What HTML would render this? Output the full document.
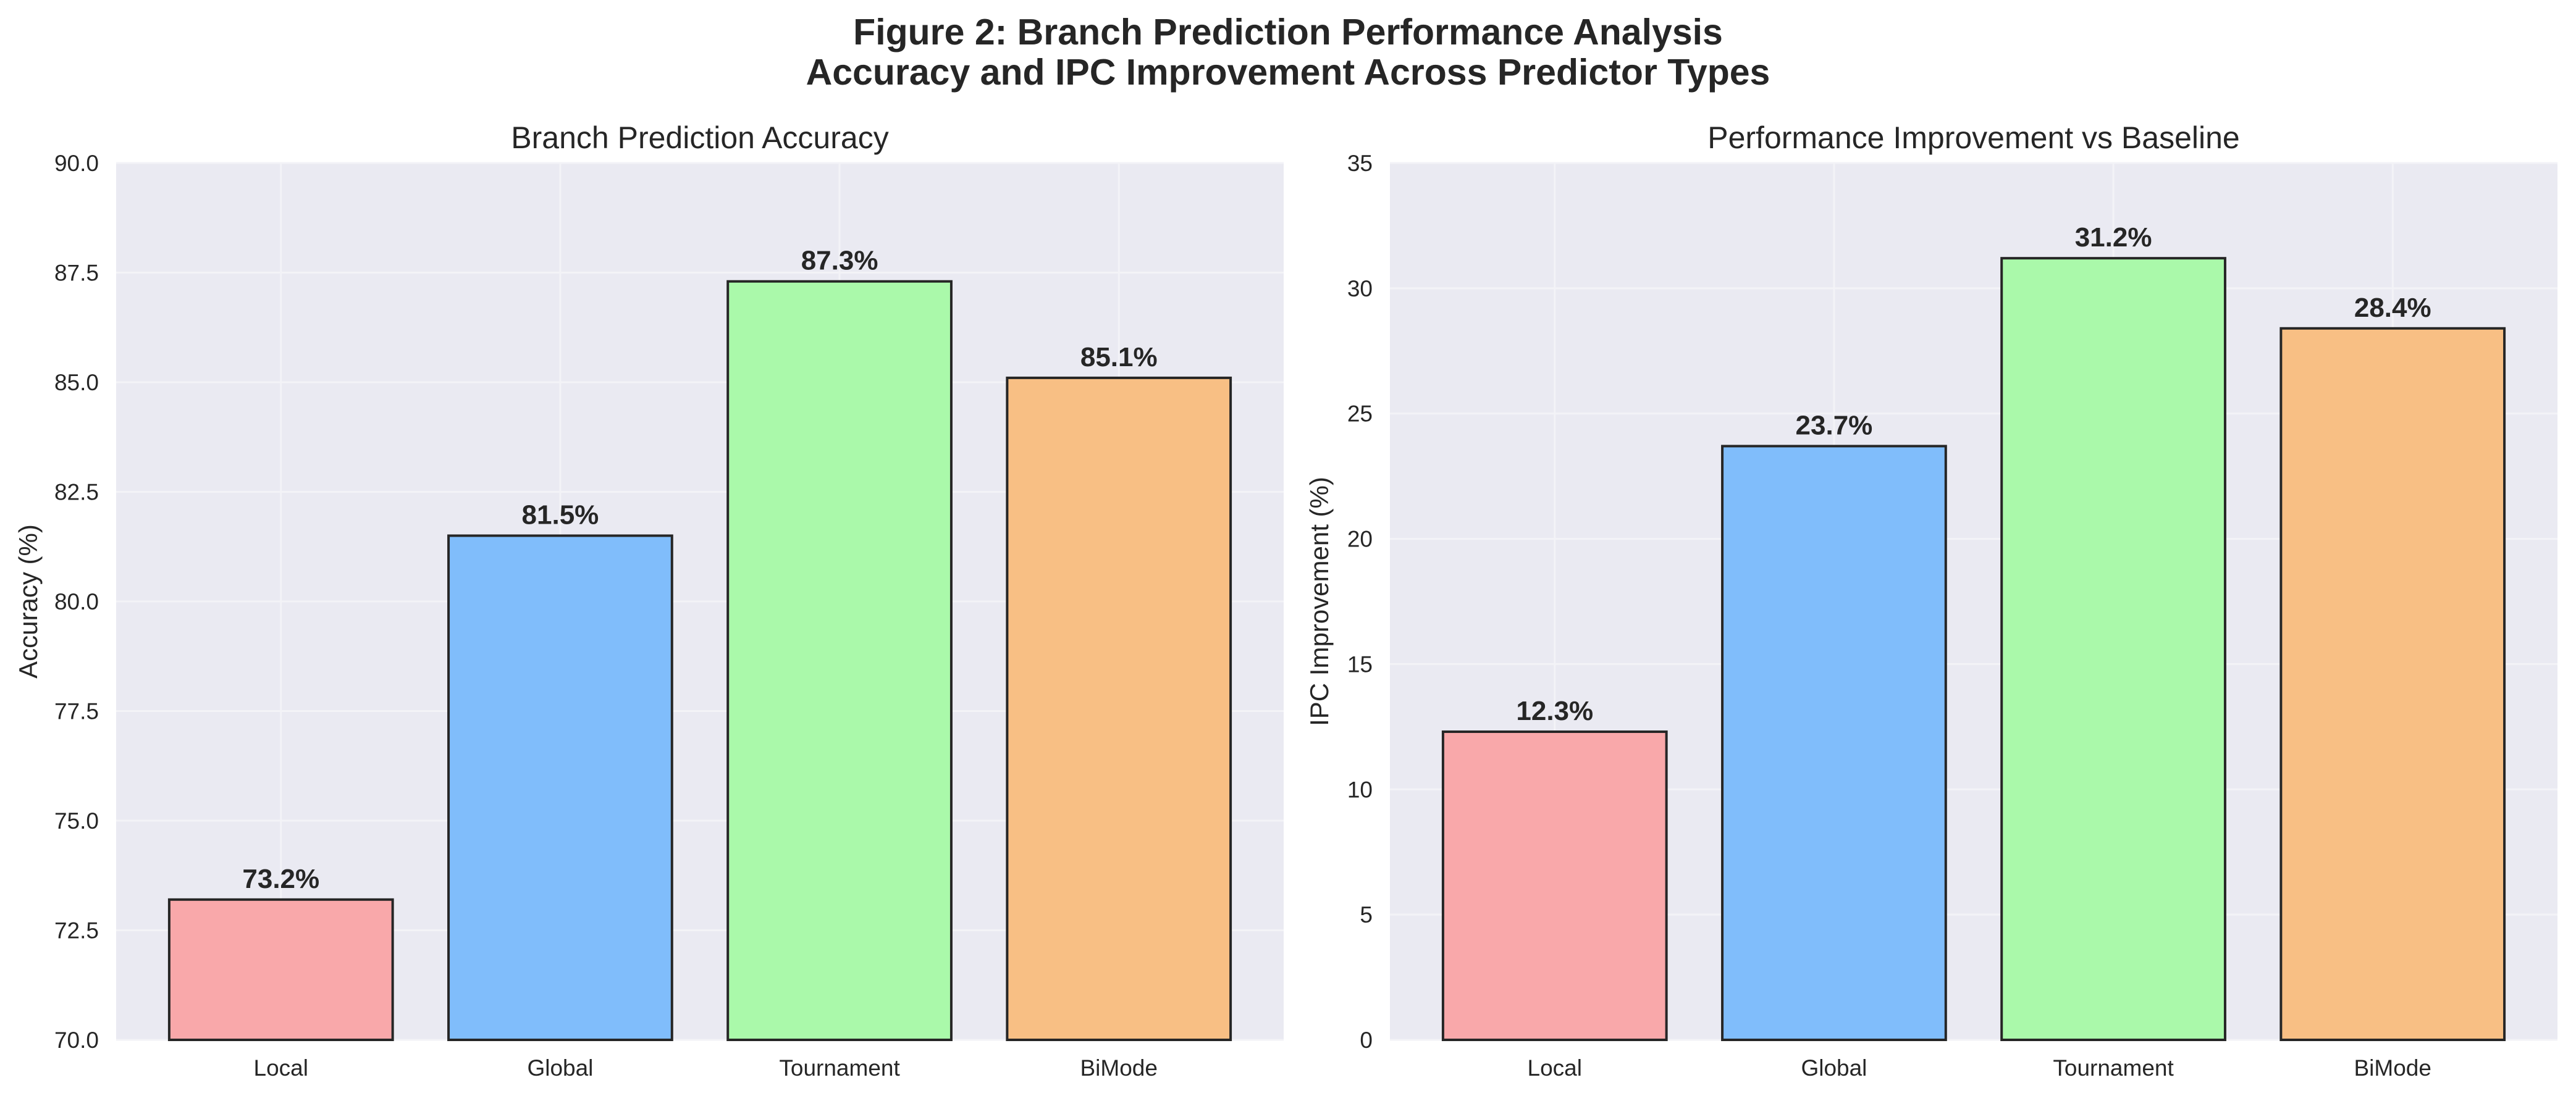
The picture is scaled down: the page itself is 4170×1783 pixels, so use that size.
<!DOCTYPE html>
<html><head><meta charset="utf-8"><style>
body{margin:0;background:#fff;}
svg text{font-family:"Liberation Sans",Arial,sans-serif;fill:#262626;}
</style></head><body>
<svg id="fig" width="4170" height="1778" viewBox="0 0 4170 1778" xmlns="http://www.w3.org/2000/svg">
<text x="2085" y="72" text-anchor="middle" font-size="59" font-weight="bold">Figure 2: Branch Prediction Performance Analysis</text>
<text x="2085" y="137" text-anchor="middle" font-size="59" font-weight="bold">Accuracy and IPC Improvement Across Predictor Types</text>
<g id="p1"></g><g id="p2"></g>
</svg>
<script>
const categories = ["Local","Global","Tournament","BiMode"];
const accuracyValues = [73.2,81.5,87.3,85.1];
const ipcValues = [12.3,23.7,31.2,28.4];
const accuracyTicks = [70,72.5,75,77.5,80,82.5,85,87.5,90];
const accuracyTickLabels = ["70.0","72.5","75.0","77.5","80.0","82.5","85.0","87.5","90.0"];
const ipcTicks = [0,5,10,15,20,25,30,35];
const ipcTickLabels = ["0","5","10","15","20","25","30","35"];
const colors = ["#F9A8AA","#80BDFB","#AAF9AA","#F8BF84"];
const NS="http://www.w3.org/2000/svg";
function mk(tag,attrs,parent){const e=document.createElementNS(NS,tag);for(const k in attrs)e.setAttribute(k,attrs[k]);parent.appendChild(e);return e;}
function panel(g,x0,x1,y0,y1,ymin,ymax,vals,ticks,tickLabels,title,ylabel,prefix,ylOff){
  const xs=i=>x0+(i+0.59)/4.18*(x1-x0);
  const ys=v=>y1-(v-ymin)/(ymax-ymin)*(y1-y0);
  const bg=mk('rect',{x:x0,y:y0,width:x1-x0,height:y1-y0,fill:'#EAEAF2'},g);
  
  
  ticks.forEach((t,i)=>{
    const ln=mk('line',{x1:x0,x2:x1,y1:ys(t),y2:ys(t),stroke:'#F3F3F7','stroke-width':3},g);
    
    
    const tx=mk('text',{x:x0-28,y:ys(t)+13,'text-anchor':'end','font-size':37},g);
    tx.textContent=tickLabels[i];
    
    
  });
  categories.forEach((c,i)=>{
    const ln=mk('line',{x1:xs(i),x2:xs(i),y1:y0,y2:y1,stroke:'#F3F3F7','stroke-width':3},g);
    
    
  });
  categories.forEach((c,i)=>{
    const w=0.8/4.18*(x1-x0);
    const top=ys(vals[i]);
    const r=mk('rect',{x:xs(i)-w/2,y:top,width:w,height:y1-top,fill:colors[i],stroke:'#262626','stroke-width':4},g);
    
    
    const lb=mk('text',{x:xs(i),y:top-19,'text-anchor':'middle','font-size':44,'font-weight':'bold'},g);
    lb.textContent=vals[i].toFixed(1)+'%';
    
    
    const xt=mk('text',{x:xs(i),y:1742,'text-anchor':'middle','font-size':37},g);
    xt.textContent=c;
    
    
  });
  const tt=mk('text',{x:(x0+x1)/2,y:y0-24,'text-anchor':'middle','font-size':50},g);
  tt.textContent=title;
  
  
  const cy=(y0+y1)/2;
  const yl=mk('text',{x:x0-ylOff,y:cy,'text-anchor':'middle','font-size':42,transform:`rotate(-90 ${x0-ylOff} ${cy})`},g);
  yl.textContent=ylabel;
  
  
}
const g1=document.getElementById('p1');


const g2=document.getElementById('p2');


panel(g1,188,2078,264,1684,70,90,accuracyValues,accuracyTicks,accuracyTickLabels,"Branch Prediction Accuracy","Accuracy (%)","accuracy",128);
panel(g2,2250,4140,264,1684,0,35,ipcValues,ipcTicks,ipcTickLabels,"Performance Improvement vs Baseline","IPC Improvement (%)","ipc",100);
</script>
</body></html>
